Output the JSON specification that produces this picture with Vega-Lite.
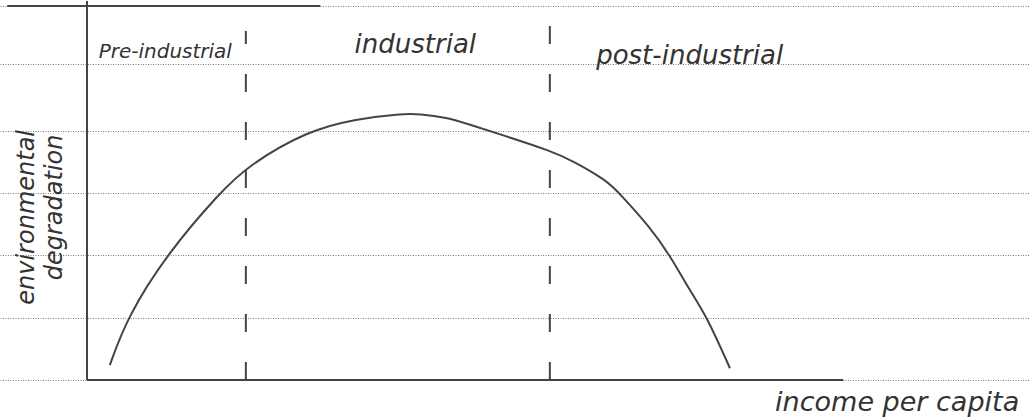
{
  "$schema": "https://vega.github.io/schema/vega-lite/v6.json",
  "width": 1029,
  "height": 417,
  "autosize": {"type": "fit", "contains": "padding"},
  "padding": 0,
  "background": "#ffffff",
  "config": {"view": {"stroke": null}},
  "datasets": {
    "curve": [
      {"x": 3.0, "y": 2.4}, {"x": 5.3, "y": 10.1}, {"x": 10.5, "y": 20.2},
      {"x": 17.5, "y": 30.1}, {"x": 21.2, "y": 34.4}, {"x": 29.0, "y": 40.0},
      {"x": 35.5, "y": 41.9}, {"x": 41.2, "y": 42.7}, {"x": 43.8, "y": 42.7},
      {"x": 47.4, "y": 42.1}, {"x": 50.0, "y": 41.1}, {"x": 55.7, "y": 38.9},
      {"x": 60.9, "y": 36.8}, {"x": 63.9, "y": 35.2}, {"x": 68.4, "y": 32.0},
      {"x": 70.1, "y": 29.9}, {"x": 74.1, "y": 24.5}, {"x": 76.7, "y": 20.0},
      {"x": 79.3, "y": 14.4}, {"x": 81.6, "y": 10.1}, {"x": 84.6, "y": 1.9}
    ],
    "dividers": [
      {"x": 20.9, "y": 0, "y2": 56.0},
      {"x": 60.9, "y": 0, "y2": 57.1}
    ],
    "axes": [
      {"x": 0, "x2": 0, "y": 0, "y2": 60.8},
      {"x": 0, "x2": 99.5, "y": 0, "y2": 0},
      {"x": -10.5, "x2": 30.7, "y": 60.0, "y2": 60.0}
    ],
    "phases": [
      {"x": 10.3, "y": 52.6, "label": "Pre-industrial"},
      {"x": 43.2, "y": 53.8, "label": "industrial"},
      {"x": 79.3, "y": 51.9, "label": "post-industrial"}
    ],
    "ytitle": [
      {"x": -7.9, "y": 26.1, "label": "environmental"},
      {"x": -4.2, "y": 27.7, "label": "degradation"}
    ],
    "xtitle": [
      {"x": 106.6, "y": -3.7, "label": "income per capita"}
    ]
  },
  "layer": [
    {
      "data": {"name": "axes"},
      "mark": {"type": "rule", "color": "#444444", "strokeWidth": 2},
      "encoding": {
        "x": {"field": "x", "type": "quantitative", "scale": {"domain": [-11.45, 123.95], "nice": false, "zero": false}, "axis": null},
        "x2": {"field": "x2"},
        "y": {"field": "y", "type": "quantitative", "scale": {"domain": [-5.92, 60.8], "nice": false, "zero": false},
              "axis": {"grid": true, "values": [0, 10, 20, 30, 40, 50.7, 60], "labels": false, "ticks": false, "domain": false, "title": null,
                       "gridColor": "#7a7a7a", "gridDash": [1, 1.5], "gridWidth": 1, "gridOpacity": 1, "minExtent": 0, "maxExtent": 0}},
        "y2": {"field": "y2"}
      }
    },
    {
      "data": {"name": "dividers"},
      "mark": {"type": "rule", "color": "#444444", "strokeWidth": 2, "strokeDash": [18, 30]},
      "encoding": {
        "x": {"field": "x", "type": "quantitative"},
        "y": {"field": "y", "type": "quantitative"},
        "y2": {"field": "y2"}
      }
    },
    {
      "data": {"name": "curve"},
      "mark": {"type": "line", "color": "#444444", "strokeWidth": 2, "interpolate": "basis"},
      "encoding": {
        "x": {"field": "x", "type": "quantitative"},
        "y": {"field": "y", "type": "quantitative"}
      }
    },
    {
      "data": {"name": "phases"},
      "transform": [{"filter": "datum.label === 'Pre-industrial'"}],
      "mark": {"type": "text", "font": "DejaVu Sans", "fontStyle": "italic", "fontSize": 20, "color": "#333333", "align": "center", "baseline": "middle"},
      "encoding": {
        "x": {"field": "x", "type": "quantitative"},
        "y": {"field": "y", "type": "quantitative"},
        "text": {"field": "label"}
      }
    },
    {
      "data": {"name": "phases"},
      "transform": [{"filter": "datum.label !== 'Pre-industrial'"}],
      "mark": {"type": "text", "font": "DejaVu Sans", "fontStyle": "italic", "fontSize": 26, "color": "#333333", "align": "center", "baseline": "middle"},
      "encoding": {
        "x": {"field": "x", "type": "quantitative"},
        "y": {"field": "y", "type": "quantitative"},
        "text": {"field": "label"}
      }
    },
    {
      "data": {"name": "ytitle"},
      "mark": {"type": "text", "font": "DejaVu Sans", "fontStyle": "italic", "fontSize": 24, "angle": 270, "color": "#333333", "align": "center", "baseline": "middle"},
      "encoding": {
        "x": {"field": "x", "type": "quantitative"},
        "y": {"field": "y", "type": "quantitative"},
        "text": {"field": "label"}
      }
    },
    {
      "data": {"name": "xtitle"},
      "mark": {"type": "text", "font": "DejaVu Sans", "fontStyle": "italic", "fontSize": 27, "color": "#333333", "align": "center", "baseline": "middle"},
      "encoding": {
        "x": {"field": "x", "type": "quantitative"},
        "y": {"field": "y", "type": "quantitative"},
        "text": {"field": "label"}
      }
    }
  ]
}
